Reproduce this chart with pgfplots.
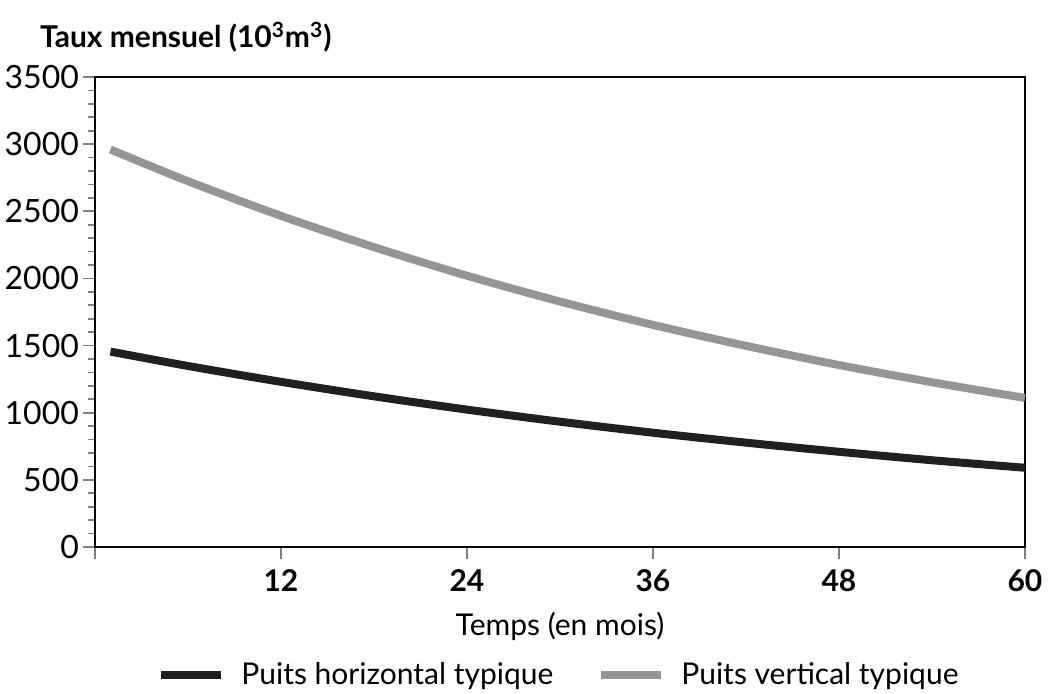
\documentclass[border=0pt]{standalone}
\usepackage{pgfplots}
\pgfplotsset{compat=1.18}
\usepackage{fontspec}
\setmainfont{Lato}
\definecolor{hblack}{HTML}{231F20}
\definecolor{vgray}{HTML}{939598}
\begin{document}
\begin{tikzpicture}
\useasboundingbox (-47.5pt,-73.5pt) rectangle (478pt,273.5pt);
\begin{axis}[
  scale only axis,
  width=465pt, height=235pt,
  clip=false,
  xmin=0, xmax=60, ymin=0, ymax=3500,
  xtick={0,12,24,36,48,60},
  xticklabels={,12,24,36,48,60},
  ytick={0,500,...,3500},
  minor y tick num=4,
  xtick pos=bottom, ytick pos=left,
  tick align=outside,
  major tick length=6pt, minor tick length=3.5pt,
  tick style={line width=0.8pt},
  axis line style={line width=1.4pt},
  /pgf/number format/assume math mode=true,
  /pgf/number format/set thousands separator={},
  x tick label style={font=\fontsize{15}{18}\selectfont\bfseries, yshift=-2pt},
  y tick label style={font=\fontsize{16}{18}\selectfont, xshift=1.5pt},
  xlabel={Temps (en mois)},
  xlabel style={font=\fontsize{15}{17}\selectfont, yshift=-3pt},
  legend columns=2,
  legend style={at={(0.5,-0.272)}, anchor=center, draw=none, font=\fontsize{15}{18}\selectfont,
    /tikz/every even column/.append style={column sep=20pt}},
  legend image code/.code={\draw[#1] (0pt,0pt) -- (30pt,0pt);},
]
\addplot[hblack, line width=4pt, smooth] coordinates {
(1,1455) (6,1348) (12,1230) (18,1122) (24,1023) (30,933) (36,851) (42,777) (48,709) (54,646) (60,590)};
\addlegendentry{\hspace{6pt}Puits horizontal typique}
\addplot[vgray, line width=4pt, smooth] coordinates {
(1,2960) (6,2724) (12,2466) (18,2233) (24,2020) (30,1828) (36,1654) (42,1498) (48,1355) (54,1227) (60,1110)};
\addlegendentry{\hspace{6pt}Puits vertical typique}
\node[anchor=west, font=\fontsize{15}{17}\selectfont\bfseries] at (rel axis cs:0,1) [xshift=-31pt, yshift=20pt] {Taux mensuel (10\textsuperscript{3}m\textsuperscript{3})};
\end{axis}
\end{tikzpicture}
\end{document}
